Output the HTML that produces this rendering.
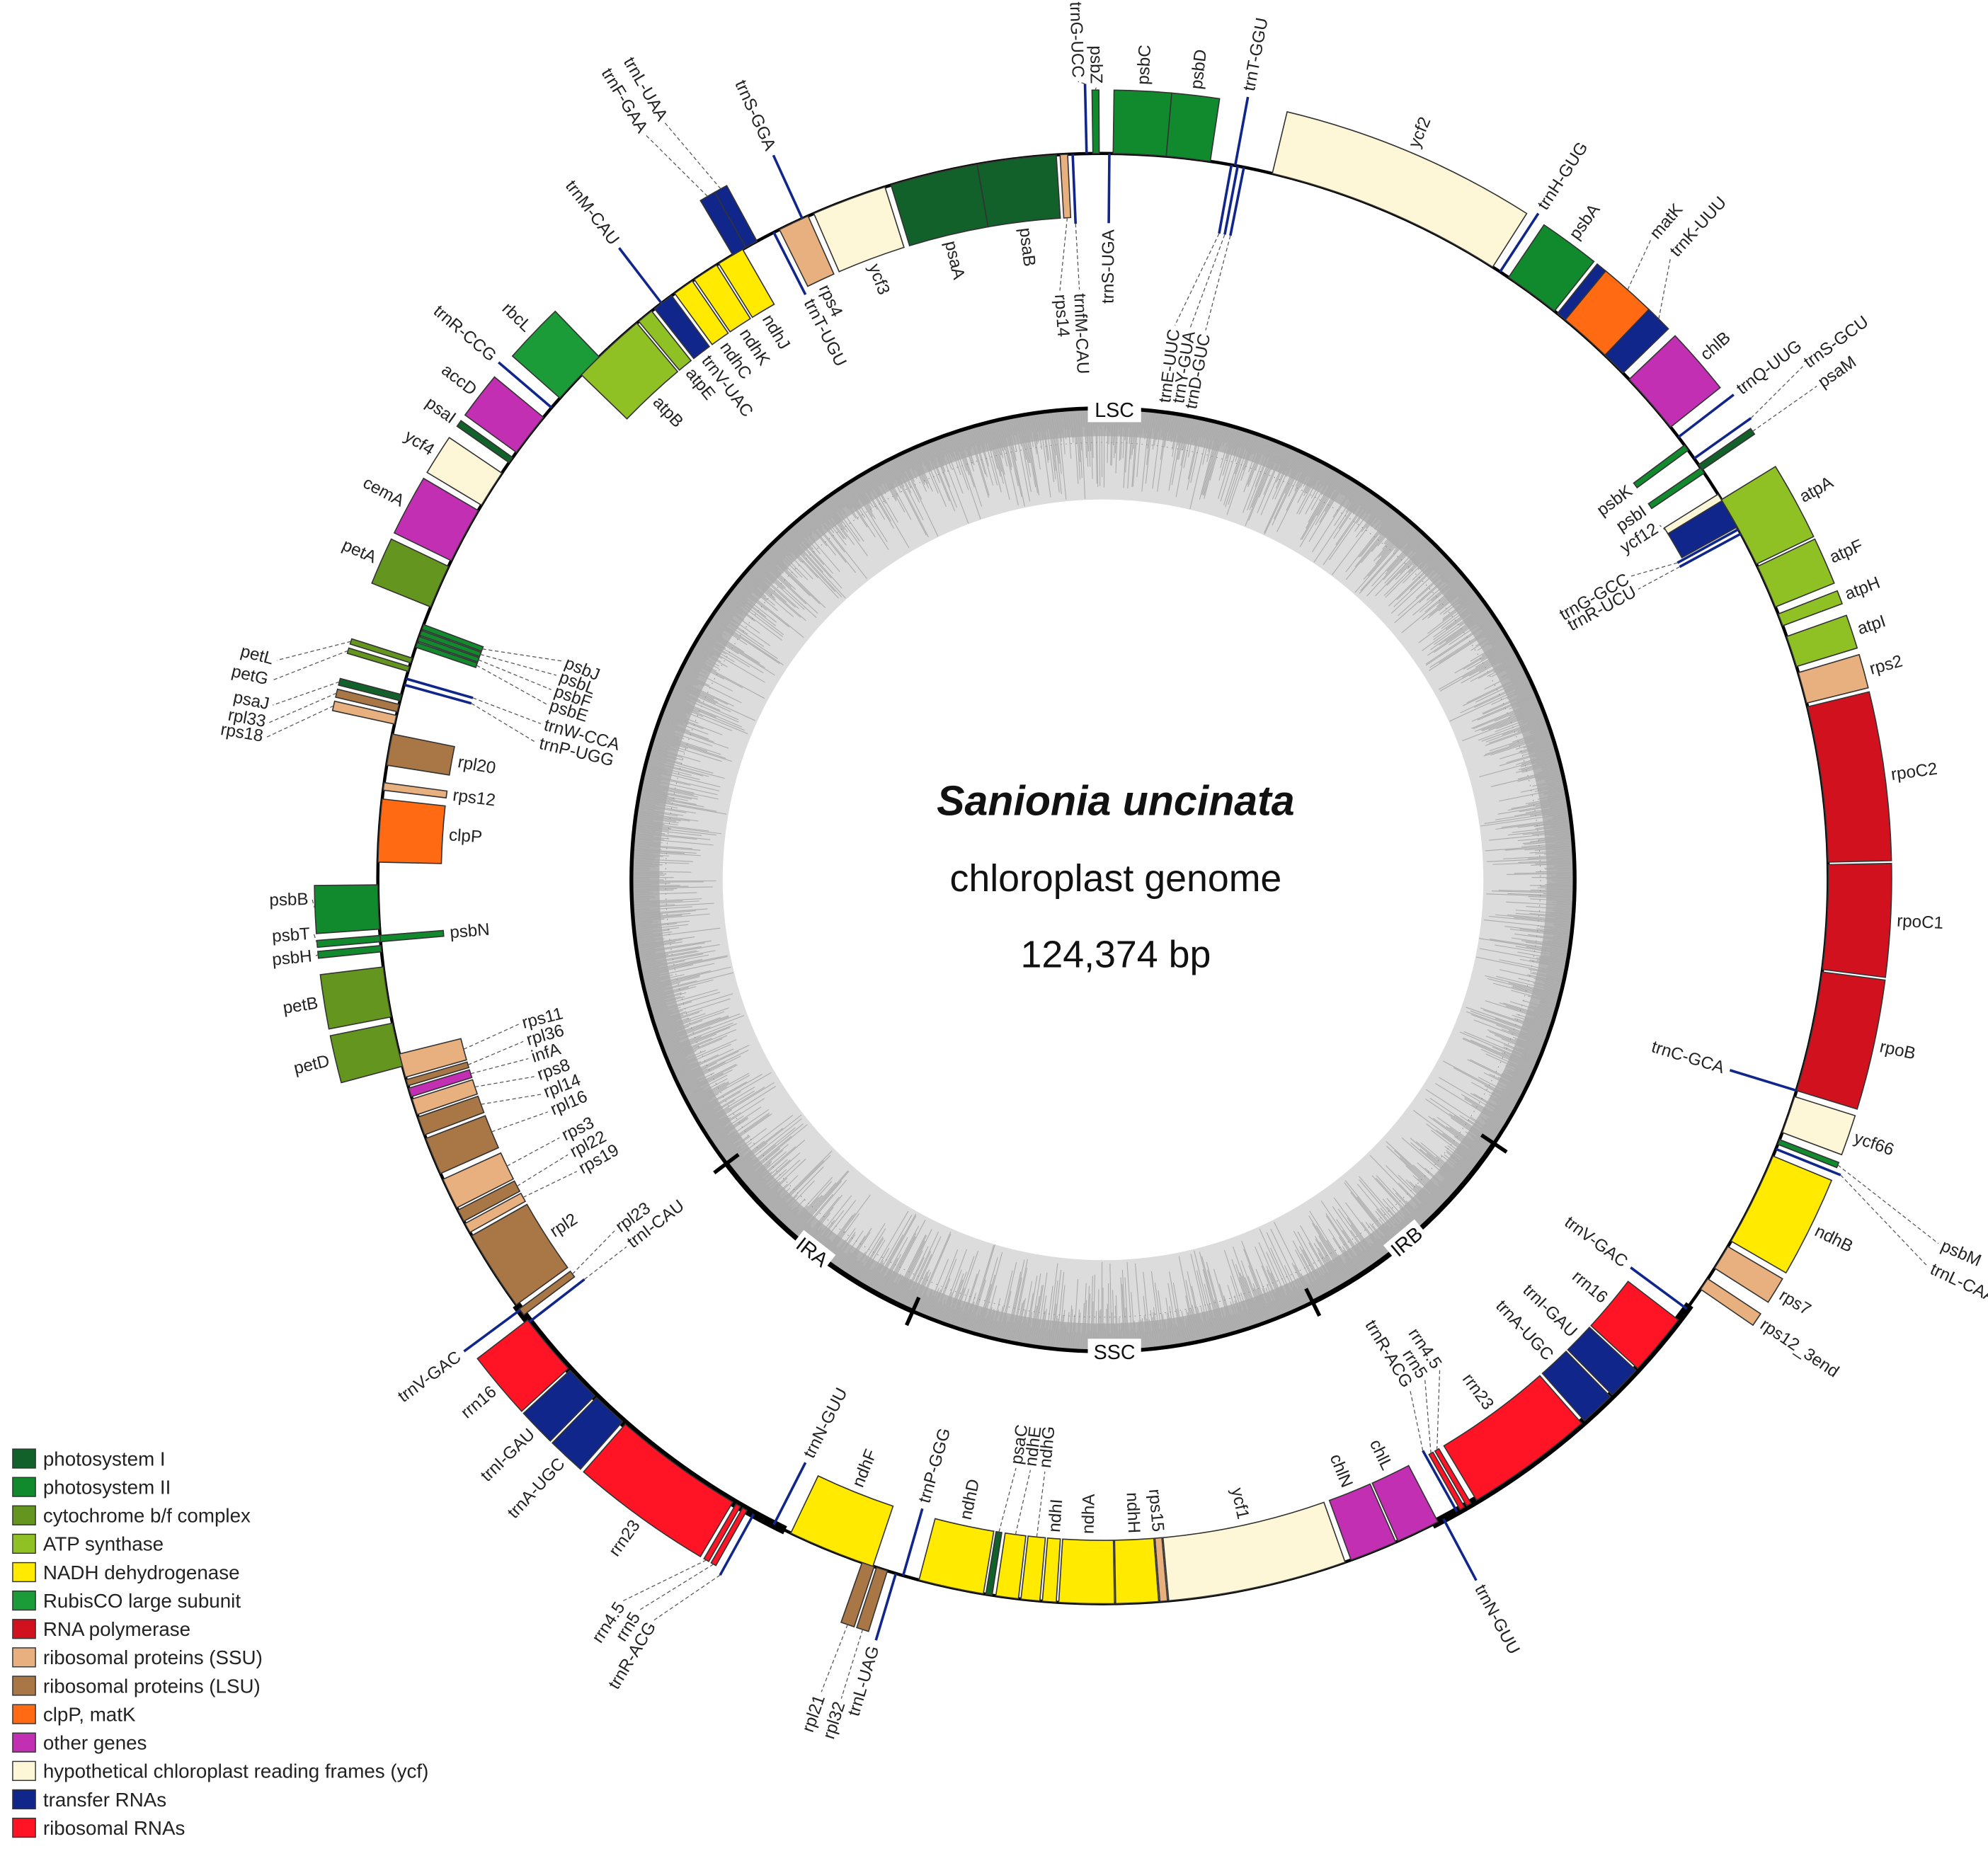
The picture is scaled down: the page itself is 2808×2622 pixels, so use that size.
<!DOCTYPE html>
<html><head><meta charset="utf-8"><style>
html,body{margin:0;padding:0;background:#fff;}
svg{display:block;}
text{font-family:"Liberation Sans",Arial,sans-serif;}
</style></head><body>
<svg id="s" width="2808" height="2622" viewBox="0 0 1568 1464" preserveAspectRatio="none" xmlns="http://www.w3.org/2000/svg">
<rect width="1568" height="1464" fill="#fff"/>
<g id="ring"></g>
<g id="genes"></g>
<g id="labels"></g>
<text x="880" y="643" text-anchor="middle" font-size="33" font-weight="bold" font-style="italic" fill="#111">Sanionia uncinata</text>
<text x="880" y="703" text-anchor="middle" font-size="30" fill="#111">chloroplast genome</text>
<text x="880" y="763" text-anchor="middle" font-size="30" fill="#111">124,374 bp</text>
<g id="legend" font-size="15.5" fill="#222"></g>
</svg>
<script>
const NS="http://www.w3.org/2000/svg";
const cx=870,cy=693,R=572,H=50,RI=372;
function P(r,a){const t=a*Math.PI/180;return [cx+r*Math.sin(t),cy-r*Math.cos(t)];}
function el(tag,attrs,parent,txt){const e=document.createElementNS(NS,tag);for(const k in attrs)e.setAttribute(k,attrs[k]);if(txt!==undefined)e.textContent=txt;parent.appendChild(e);return e;}
const C={ps1:'#12602a',ps2:'#118a2e',cyt:'#64961f',atp:'#8fc125',ndh:'#ffea00',rbc:'#1c9c38',rnap:'#d2111f',ssu:'#e8b07f',lsu:'#a97645',clp:'#ff6a12',oth:'#c22fb3',ycf:'#fdf7d8',trna:'#10268a',rrna:'#ff1426'};
const ring=document.getElementById('ring'),G=document.getElementById('genes'),L=document.getElementById('labels');
el('circle',{cx:cx,cy:cy+1,r:RI,fill:'#dcdcdc'},ring);
el('circle',{cx:cx,cy:cy+1,r:361,fill:'none',stroke:'#b4b4b4','stroke-width':22},ring);
let seed=7;function rnd(){seed=(seed*16807)%2147483647;return seed/2147483647;}
let d='';
for(let i=0;i<2400;i++){const a=i*0.15;const len=14+Math.pow(rnd(),2.2)*58;const p1=P(RI,a),p2=P(RI-len,a);d+=`M${p1[0].toFixed(1)} ${(p1[1]+1).toFixed(1)}L${p2[0].toFixed(1)} ${(p2[1]+1).toFixed(1)}`;}
el('path',{d:d,stroke:'#aaaaaa','stroke-width':0.6,fill:'none'},ring);
el('circle',{cx:cx,cy:cy+1,r:300,fill:'#fff'},ring);
el('circle',{cx:cx,cy:cy+1,r:345,fill:'none',stroke:'#888','stroke-width':0.5,'stroke-dasharray':'1 3'},ring);
el('circle',{cx:cx,cy:cy+1,r:RI,fill:'none',stroke:'#000','stroke-width':3},ring);
function arcPath(r,a1,a2){const p1=P(r,a1),p2=P(r,a2);return `M${p1[0]} ${p1[1]}A${r} ${r} 0 ${a2-a1>180?1:0} 1 ${p2[0]} ${p2[1]}`;}
function arcI(r,a1,a2,w){const p1=P(r,a1),p2=P(r,a2);el('path',{d:`M${p1[0]} ${p1[1]+1}A${r} ${r} 0 0 1 ${p2[0]} ${p2[1]+1}`,fill:'none',stroke:'#000','stroke-width':w},ring);}
arcI(RI,124,153.6,4);arcI(RI,203.8,233,4);
[124,153.6,203.8,233].forEach(a=>{const p1=P(RI-12,a),p2=P(RI+12,a);el('line',{x1:p1[0],y1:p1[1]+1,x2:p2[0],y2:p2[1]+1,stroke:'#000','stroke-width':3},ring);});
el('rect',{x:858,y:313,width:42,height:20,fill:'#fff'},ring);
el('text',{x:879,y:329,'text-anchor':'middle','font-size':16,fill:'#111'},ring,'LSC');
el('rect',{x:858,y:1056,width:42,height:20,fill:'#fff'},ring);
el('text',{x:879,y:1072,'text-anchor':'middle','font-size':16,fill:'#111'},ring,'SSC');
(function(){
 let p=P(RI,218);let x=p[0],y=p[1]+1;
 el('rect',{x:x-16,y:y-9,width:32,height:18,fill:'#fff',transform:`rotate(38 ${x} ${y})`},ring);
 el('text',{x:x,y:y+6,'text-anchor':'middle','font-size':16,fill:'#111',transform:`rotate(38 ${x} ${y})`},ring,'IRA');
 p=P(RI,140);x=p[0];y=p[1]+1;
 el('rect',{x:x-16,y:y-9,width:32,height:18,fill:'#fff',transform:`rotate(-40 ${x} ${y})`},ring);
 el('text',{x:x,y:y+6,'text-anchor':'middle','font-size':16,fill:'#111',transform:`rotate(-40 ${x} ${y})`},ring,'IRB');
})();
el('circle',{cx:cx,cy:cy,r:R,fill:'none',stroke:'#000','stroke-width':2.5},G);
el('path',{d:arcPath(R,126,153),fill:'none',stroke:'#000','stroke-width':7},G);
el('path',{d:arcPath(R,206,234),fill:'none',stroke:'#000','stroke-width':7},G);
const genes=[
['trnG-UCC',358.7,null,'o','trna',358.2],
['psbZ',359.2,359.7,'o','ps2',359.5],
['psbC',0.8,5,'o','ps2'],
['psbD',5,8.5,'o','ps2'],
['trnT-GGU',10.5,null,'o','trna'],
['trnE-UUC',10.2,null,'i','trna',7.4,R-135],
['trnY-GUA',10.7,null,'i','trna',9.0,R-135],
['trnD-GUC',11.2,null,'i','trna',10.6,R-135],
['ycf2',13.5,32.5,'o','ycf'],
['trnH-GUG',33.2,null,'o','trna'],
['psbA',34,38.5,'o','ps2'],
['',38.8,39.6,'o','trna'],
['matK',39.6,43.8,'o','clp',40.6,R+95],
['trnK-UUU',43.8,45.8,'o','trna',42.4,R+95],
['chlB',46.5,51.5,'o','oth'],
['trnQ-UUG',52.5,null,'o','trna'],
['trnS-GCU',54.6,null,'o','trna',53.8,R+115],
['psaM',55.2,55.7,'o','ps1',55.4,R+115],
['psbK',53.3,53.8,'i','ps2'],
['psbI',55.5,56,'i','ps2'],
['ycf12',58,58.6,'i','ycf',57.6],
['',58.6,61,'i','trna'],
['trnG-GCC',61.2,null,'i','trna',60.2,R-95],
['trnR-UCU',61.6,null,'i','trna',61.6,R-95],
['atpA',58.5,64.3,'o','atp'],
['atpF',64.5,68,'o','atp'],
['atpH',68.6,69.6,'o','atp'],
['atpI',70.5,73,'o','atp'],
['rps2',73.5,76,'o','ssu'],
['rpoC2',76.3,88.7,'o','rnap'],
['rpoC1',88.9,97.2,'o','rnap'],
['rpoB',97.4,107,'o','rnap'],
['trnC-GCA',107,null,'i','trna'],
['ycf66',107.5,110.5,'o','ycf'],
['psbM',111.1,111.5,'o','ps2',113.6,R+150],
['trnL-CAA',111.9,null,'o','trna',115.2,R+150],
['ndhB',112.5,120,'o','ndh'],
['rps7',120.5,122.5,'o','ssu'],
['rps12_3end',123.5,124.5,'o','ssu'],
['trnV-GAC',126.4,null,'i','trna'],
['rrn16',127.5,132.5,'i','rrna'],
['trnI-GAU',132.7,135.4,'i','trna'],
['trnA-UGC',135.6,138.4,'i','trna'],
['rrn23',138.7,149,'i','rrna'],
['rrn4.5',149.5,149.9,'i','rrna',145.6,R-105],
['rrn5',150.1,150.5,'i','rrna',147.3,R-105],
['trnR-ACG',150.8,null,'i','trna',149.0,R-105],
['trnN-GUU',152,null,'o','trna'],
['chlL',152.5,156,'i','oth'],
['chlN',156.2,160,'i','oth'],
['ycf1',160.5,174.8,'i','ycf'],
['rps15',174.9,175.5,'i','ssu'],
['ndhH',175.6,179,'i','ndh'],
['ndhA',179.1,183.5,'i','ndh'],
['ndhI',183.7,184.8,'i','ndh'],
['ndhG',185,186.5,'i','ndh',185.6,R-105],
['ndhE',186.7,188.5,'i','ndh',187,R-105],
['psaC',188.8,189.3,'i','ps1',188.4,R-105],
['ndhD',189.5,194.7,'i','ndh'],
['trnP-GGG',196,null,'i','trna'],
['trnL-UAG',196.6,null,'o','trna'],
['rpl32',197.3,198.2,'o','lsu',197.7,R+110],
['rpl21',198.4,199.4,'o','lsu',199.1,R+110],
['ndhF',198.5,205.5,'i','ndh'],
['trnN-GUU',207,null,'i','trna'],
['trnR-ACG',208.8,null,'o','trna',211.2,R+115],
['rrn5',209.4,209.8,'o','rrna',212.4,R+115],
['rrn4.5',210,210.4,'o','rrna',213.6,R+115],
['rrn23',210.7,221.2,'o','rrna'],
['trnA-UGC',221.5,224.3,'o','trna'],
['trnI-GAU',224.5,227.3,'o','trna'],
['rrn16',227.5,232.5,'o','rrna'],
['trnV-GAC',233.5,null,'o','trna'],
['trnI-CAU',232.3,null,'i','trna',232.3,R-100],
['rpl23',233,233.6,'i','lsu',234.2,R-100],
['rpl2',234,240.5,'i','lsu'],
['rps19',240.8,241.6,'i','ssu',240.9,R-100],
['rpl22',241.8,242.8,'i','lsu',242.7,R-100],
['rps3',243,245.5,'i','ssu',244.5,R-100],
['rpl16',246,249,'i','lsu',247.2,R-100],
['rpl14',249.3,250.8,'i','lsu',249,R-100],
['rps8',251,252.3,'i','ssu',250.8,R-100],
['infA',252.5,253.2,'i','oth',252.6,R-100],
['rpl36',253.4,253.9,'i','lsu',254.3,R-100],
['rps11',254.1,256,'i','ssu',256,R-100],
['petD',255,258.5,'o','cyt'],
['petB',259,263,'o','cyt'],
['psbH',264.2,264.7,'o','ps2',264.4],
['psbT',265,265.5,'o','ps2',266],
['psbN',265,265.5,'i','ps2'],
['psbB',266,269.5,'o','ps2',268.5],
['clpP',271.3,276.3,'i','clp'],
['rps12',277,277.6,'i','ssu'],
['rpl20',279,281.5,'i','lsu'],
['rps18',282.3,283,'o','ssu',279.6,R+100],
['rpl33',283.3,283.9,'o','lsu',280.6,R+100],
['psaJ',284.2,284.7,'o','ps1',281.8,R+100],
['trnP-UGG',285.5,null,'i','trna',283.5,R-115],
['trnW-CCA',286,null,'i','trna',285.4,R-115],
['petG',286.6,287,'o','cyt',283.4,R+105],
['petL',287.3,287.7,'o','cyt',284.8,R+105],
['psbE',288.6,289,'i','ps2',287.4,R-115],
['psbF',289.1,289.5,'i','ps2',288.9,R-115],
['psbL',289.6,290,'i','ps2',290.4,R-115],
['psbJ',290.1,290.5,'i','ps2',291.9,R-115],
['petA',292,295.5,'o','cyt'],
['cemA',296,300.5,'o','oth'],
['ycf4',301,304,'o','ycf'],
['psaI',305,305.5,'o','ps1'],
['accD',306,309.5,'o','oth'],
['trnR-CCG',310.5,null,'o','trna'],
['rbcL',311.5,316,'o','rbc'],
['atpB',314,320,'i','atp'],
['atpE',320.2,321.5,'i','atp'],
['trnM-CAU',322.5,null,'o','trna'],
['trnV-UAC',321.8,323.5,'i','trna'],
['ndhC',323.8,325.5,'i','ndh'],
['ndhK',325.7,327.8,'i','ndh'],
['ndhJ',328,330.2,'i','ndh'],
['trnF-GAA',329.3,330.5,'o','trna',328.4,R+120],
['trnL-UAA',330.5,331.5,'o','trna',329.9,R+120],
['trnT-UGU',333,null,'i','trna'],
['trnS-GGA',335.5,null,'o','trna'],
['rps4',333.5,336,'i','ssu'],
['ycf3',336.5,342.5,'i','ycf'],
['psaA',343,350,'i','ps1'],
['psaB',350,356.3,'i','ps1'],
['rps14',356.6,357.2,'i','ssu',355.8,R-110],
['trnfM-CAU',357.6,null,'i','trna',357.7,R-110],
['trnS-UGA',0.5,null,'i','trna']
];
function norm(a){a=a%360;if(a<0)a+=360;return a;}
genes.forEach(g=>{
 let [name,a1,a2,side,ck,la,lr]=g;
 const col=C[ck];
 let mid,edge;
 if(a2===null){
   mid=a1;
   const r1=R, r2= side==='o'?R+55:R-55;
   const p1=P(r1,a1),p2=P(r2,a1);
   el('line',{x1:p1[0],y1:p1[1],x2:p2[0],y2:p2[1],stroke:col,'stroke-width':2},G);
   edge=r2;
 } else {
   if(a2<a1)a2+=360;
   mid=(a1+a2)/2;
   const r1= side==='o'?R:R-H, r2= side==='o'?R+H:R;
   const p1=P(r1,a1),p2=P(r1,a2),p3=P(r2,a2),p4=P(r2,a1);
   el('path',{d:`M${p1[0]} ${p1[1]}A${r1} ${r1} 0 0 1 ${p2[0]} ${p2[1]}L${p3[0]} ${p3[1]}A${r2} ${r2} 0 0 0 ${p4[0]} ${p4[1]}Z`,fill:col,stroke:'#333','stroke-width':0.9},G);
   edge= side==='o'?R+H:R-H;
 }
 if(!name)return;
 const custom = la!==undefined && la!==null;
 if(!custom) la=mid;
 if(lr===undefined||lr===null) lr = side==='o'? edge+5 : edge-5;
 if(custom && (Math.abs(la-mid)>0.05 || Math.abs(lr-edge)>8)){
   const q1=P(edge,mid), q2=P(side==='o'?lr-3:lr+3,la);
   el('line',{x1:q1[0],y1:q1[1],x2:q2[0],y2:q2[1],stroke:'#555','stroke-width':0.7,'stroke-dasharray':'3 2'},L);
 }
 const A=norm(la);
 const p=P(lr,A);
 let rot,anchor;
 if(A<180){rot=A-90;anchor= side==='o'?'start':'end';}
 else {rot=A+90;anchor= side==='o'?'end':'start';}
 el('text',{x:p[0].toFixed(1),y:p[1].toFixed(1),'font-size':13.5,fill:'#222','text-anchor':anchor,'dominant-baseline':'central',transform:`rotate(${rot.toFixed(2)} ${p[0].toFixed(1)} ${p[1].toFixed(1)})`},L,name);
});
const leg=[['ps1','photosystem I'],['ps2','photosystem II'],['cyt','cytochrome b/f complex'],['atp','ATP synthase'],['ndh','NADH dehydrogenase'],['rbc','RubisCO large subunit'],['rnap','RNA polymerase'],['ssu','ribosomal proteins (SSU)'],['lsu','ribosomal proteins (LSU)'],['clp','clpP, matK'],['oth','other genes'],['ycf','hypothetical chloroplast reading frames (ycf)'],['trna','transfer RNAs'],['rrna','ribosomal RNAs']];
const LG=document.getElementById('legend');
leg.forEach((l,i)=>{const y=1143+i*22.4;el('rect',{x:10,y:y,width:18,height:15,fill:C[l[0]],stroke:'#333','stroke-width':0.8},LG);el('text',{x:34,y:y+13},LG,l[1]);});
</script>
</body></html>
